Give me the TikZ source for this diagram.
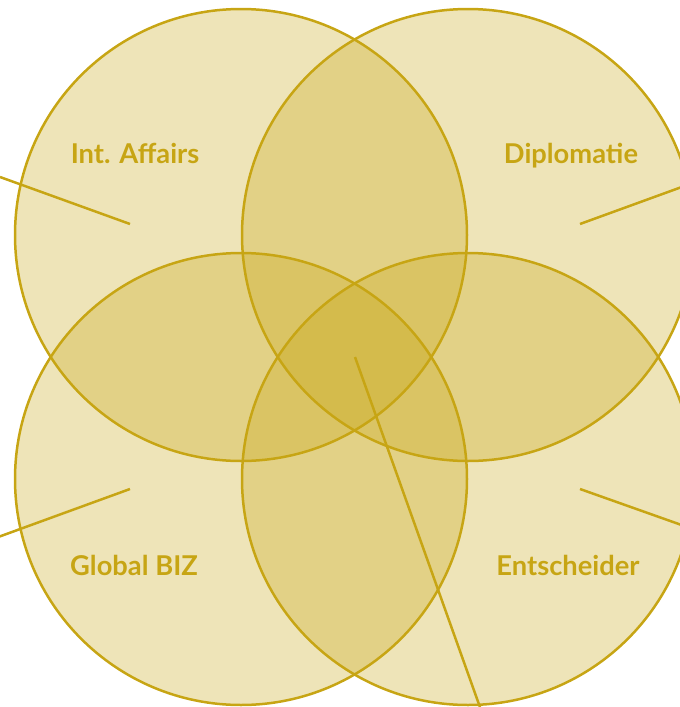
\documentclass[tikz,border=0pt]{standalone}
\usepackage{fontspec}
\setmainfont{Lato}[BoldFont={* Bold}]
\definecolor{gold}{HTML}{C7A514}
\begin{document}
\begin{tikzpicture}[x=1pt,y=-1pt,
  circ/.style={draw=gold,line width=2.5pt,fill=gold,fill opacity=0.3,draw opacity=1},
  lbl/.style={text=gold,font=\fontsize{27.3}{30}\selectfont\bfseries,anchor=base,inner sep=0pt},
  conn/.style={draw=gold,line width=2.5pt}]
\useasboundingbox (0,0) rectangle (680,707);
\begin{scope}
\clip (0,0) rectangle (680,707);
\path[circ] (241,235) circle[radius=226];
\path[circ] (468,235) circle[radius=226];
\path[circ] (241,479) circle[radius=226];
\path[circ] (468,479) circle[radius=226];
\coordinate (a1) at (0,177);   \coordinate (a2) at (130,224);
\coordinate (b1) at (580,224); \coordinate (b2) at (690,184);
\coordinate (c1) at (130,489); \coordinate (c2) at (-10,540);
\coordinate (d1) at (580,489); \coordinate (d2) at (690,528);
\coordinate (e1) at (355,357); \coordinate (e2) at (481,710);
\draw[conn] (a1) -- (a2);
\draw[conn] (b1) -- (b2);
\draw[conn] (c1) -- (c2);
\draw[conn] (d1) -- (d2);
\draw[conn] (e1) -- (e2);
\end{scope}
\node[lbl] (t1) at (135,163) {Int. Affairs};
\node[lbl] (t2) at (571,163) {Diplomatie};
\node[lbl] (t3) at (134,575) {Global BIZ};
\node[lbl] (t4) at (568,575) {Entscheider};
\end{tikzpicture}
\end{document}
